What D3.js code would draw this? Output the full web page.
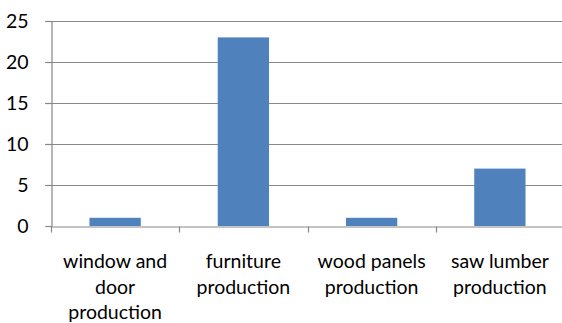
<!DOCTYPE html>
<html>
<head>
<meta charset="utf-8">
<script src="https://cdn.jsdelivr.net/npm/d3@7"></script>
<style>
  html, body { margin: 0; padding: 0; background: #fff; }
  svg { display: block; }
  text { font-family: Lato, "Open Sans", sans-serif; fill: #000; }
</style>
</head>
<body>
<svg id="chart" width="562" height="323"></svg>
<script>
// Count of enterprises by branch of wood processing
const categories = ["window and door production", "furniture production", "wood panels production", "saw lumber production"];
const values = [1, 23, 1, 7];
const yTicks = [0, 5, 10, 15, 20, 25];

(function draw() {
const svg = d3.select("#chart");
const plotLeft = 51, plotRight = 564, plotTop = 21, plotBottom = 226;
const fontSize = 19.5;

const x = d3.scaleBand().domain(categories).range([plotLeft, plotRight]).paddingInner(0).paddingOuter(0);
const y = d3.scaleLinear().domain([0, 25]).range([plotBottom, plotTop]);

// horizontal gridlines with short outside ticks
const grid = svg.append("g");
grid.selectAll("line").data(yTicks.filter(d => d > 0)).join("line")
  .attr("x1", plotLeft - 6).attr("x2", plotRight)
  .attr("y1", d => Math.round(y(d)) + 0.5).attr("y2", d => Math.round(y(d)) + 0.5)
  .attr("stroke", "#888").attr("stroke-width", 1.2);

// bars (Excel-style gap width 150%)
const barW = x.bandwidth() / 2.5;
svg.append("g").selectAll("rect").data(values).join("rect")
  .attr("x", (d, i) => x(categories[i]) + (x.bandwidth() - barW) / 2)
  .attr("width", barW)
  .attr("y", d => y(d))
  .attr("height", d => y(0) - y(d))
  .attr("fill", "#4F81BD");

// y axis
const yAxis = svg.append("g").attr("transform", `translate(${plotLeft + 0.5},0)`)
  .call(d3.axisLeft(y).tickValues(yTicks).tickSize(6).tickPadding(17));
yAxis.select(".domain").attr("stroke", "#888").attr("stroke-width", 1.2);
yAxis.selectAll(".tick line").attr("stroke", "#888").attr("stroke-width", 1.2);
yAxis.selectAll(".tick text").attr("font-size", fontSize).attr("font-family", "Lato, sans-serif").attr("fill", "#000");

// x axis
const xAxis = svg.append("g").attr("transform", `translate(0,${Math.round(y(0)) + 0.5})`)
  .call(d3.axisBottom(x).tickSize(0).tickFormat(""));
xAxis.select(".domain").attr("stroke", "#888").attr("stroke-width", 1.2);
// category boundary ticks
const bounds = categories.map(c => x(c)).concat([plotRight]);
xAxis.append("g").selectAll("line").data(bounds).join("line")
  .attr("x1", d => Math.round(d) + 0.5).attr("x2", d => Math.round(d) + 0.5)
  .attr("y1", 0).attr("y2", 6)
  .attr("stroke", "#888").attr("stroke-width", 1.2);

// wrapped category labels
const lineH = 25.5;
const labels = svg.append("g").selectAll("text").data(categories).join("text")
  .attr("text-anchor", "middle")
  .attr("font-size", fontSize)
  .attr("x", d => x(d) + x.bandwidth() / 2)
  .attr("y", 268);

labels.each(function(d) {
  const t = d3.select(this);
  const cx = x(d) + x.bandwidth() / 2;
  const words = d.split(" ");
  const maxW = x.bandwidth() - 6;
  let lines = [], cur = [];
  const probe = t.append("tspan");
  words.forEach(w => {
    const trial = cur.concat([w]).join(" ");
    probe.text(trial);
    if (cur.length && probe.node().getComputedTextLength() > maxW) {
      lines.push(cur.join(" "));
      cur = [w];
    } else {
      cur.push(w);
    }
  });
  lines.push(cur.join(" "));
  probe.remove();
  lines.forEach((ln, i) => {
    t.append("tspan").attr("x", cx).attr("dy", i === 0 ? 0 : lineH).text(ln);
  });
});
})();
</script>
</body>
</html>
